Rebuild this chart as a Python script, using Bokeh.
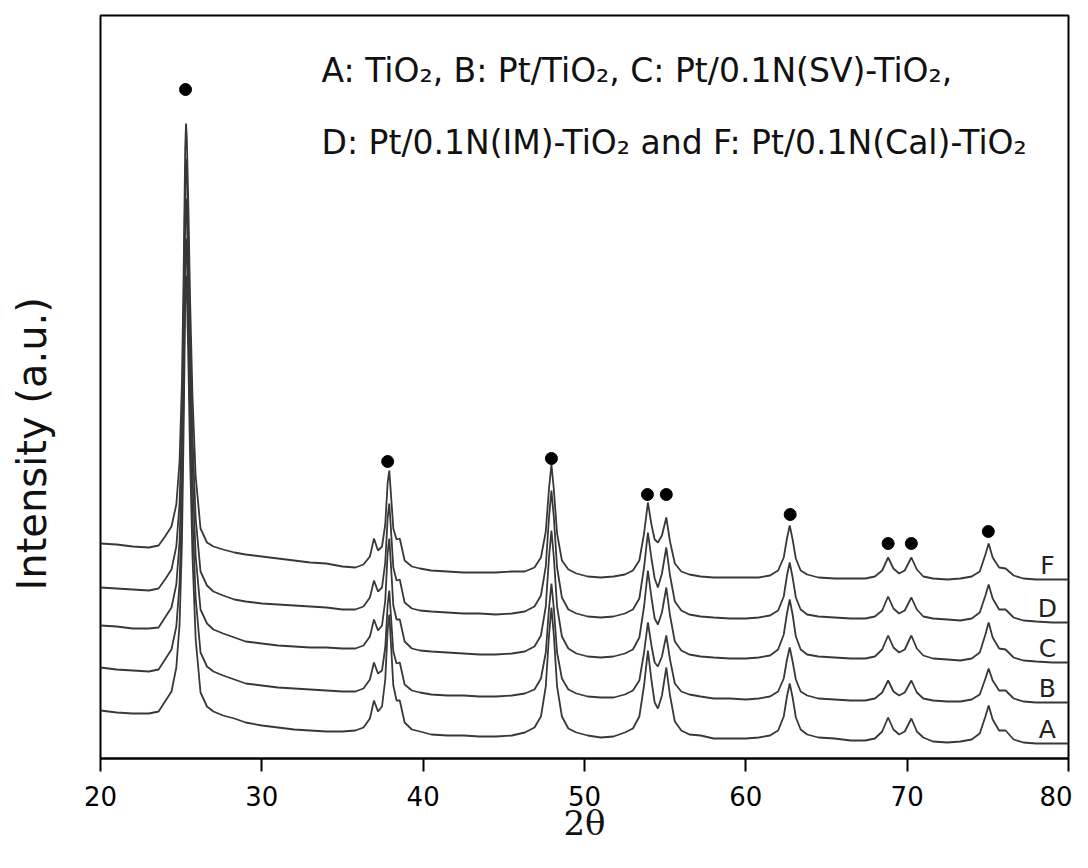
from bokeh.plotting import figure
from bokeh.models import Range1d, Label, FixedTicker, Title
from bokeh.embed import file_html
from bokeh.resources import INLINE

# 2-theta grid (degrees)
two_theta = [20, 21, 22, 23, 23.6,
             24.0, 24.4, 24.7, 24.9, 25.05, 25.15, 25.25, 25.3, 25.35, 25.45, 25.55, 25.7, 25.9, 26.2, 26.6, 27.0, 27.6, 28.3,
             29, 30, 31, 32, 33, 34, 35, 35.8,
             36.3, 36.7, 36.95, 37.2, 37.45, 37.65, 37.8, 37.9, 38.0, 38.15, 38.35, 38.55, 38.85, 39.3, 39.8,
             40.5, 41.5, 42.5, 43.5, 44.5, 45.5,
             46.3, 46.9, 47.3, 47.6, 47.8, 47.95, 48.1, 48.3, 48.6, 49.0, 49.5, 50.2,
             51, 51.8,
             52.5, 53.0, 53.4, 53.7, 53.93, 54.15, 54.35, 54.55, 54.8, 55.07, 55.3, 55.6, 56.0, 56.5, 57.2,
             58, 59, 60,
             60.8, 61.5, 62.0, 62.35, 62.55, 62.72, 62.9, 63.1, 63.4, 63.8, 64.5, 65.5,
             66.5, 67.4,
             68.0, 68.45, 68.82, 69.15, 69.5, 69.85, 70.26, 70.6, 71.0, 71.6, 72.5,
             73.3, 74.0, 74.5, 74.85, 75.05, 75.3, 75.7, 76.1, 76.6, 77.2, 78, 79, 80]

# Intensities (a.u., as stacked in the figure)
trace_A = [48, 46, 45, 45, 47,
           57, 67, 91, 134, 217, 326, 457, 483, 469, 395, 303, 203, 119, 66, 52, 47, 43, 40,
           36, 33, 31, 29, 28, 27, 27, 28,
           31, 40, 58, 47, 52, 79, 129, 144, 116, 73, 58, 58, 36, 29, 27,
           24, 23, 23, 22, 22, 23,
           26, 31, 42, 72, 123, 151, 123, 72, 42, 30, 26, 23,
           21, 22,
           26, 30, 42, 74, 108, 78, 56, 50, 63, 91, 63, 37, 28, 24, 23,
           20, 20, 20,
           21, 23, 28, 42, 62, 75, 61, 41, 29, 24, 21, 20,
           18, 18,
           20, 27, 41, 29, 24, 27, 40, 27, 21, 17, 16,
           17, 19, 25, 42, 53, 39, 28, 28, 19, 16, 15, 15, 15]

trace_B = [91, 89, 88, 87, 89,
           99, 109, 132, 175, 257, 365, 494, 520, 506, 433, 342, 243, 160, 106, 92, 87, 83, 79,
           75, 73, 71, 70, 69, 68, 67, 67,
           70, 79, 96, 85, 88, 111, 154, 168, 143, 107, 95, 96, 74, 68, 66,
           64, 63, 63, 62, 62, 63,
           65, 69, 80, 106, 150, 175, 150, 106, 80, 69, 65, 62,
           61, 61,
           64, 68, 78, 107, 136, 113, 96, 92, 102, 123, 99, 75, 67, 64, 62,
           60, 60, 59,
           60, 62, 67, 80, 99, 111, 97, 79, 67, 63, 60, 59,
           58, 58,
           60, 66, 78, 67, 63, 66, 78, 66, 60, 58, 57,
           57, 59, 64, 80, 90, 78, 68, 68, 60, 57, 56, 56, 56]

trace_C = [133, 132, 130, 130, 131,
           141, 151, 174, 217, 298, 406, 534, 560, 546, 473, 383, 284, 202, 149, 135, 129, 125, 121,
           117, 115, 113, 112, 111, 111, 110, 110,
           113, 122, 139, 128, 133, 158, 206, 220, 194, 153, 139, 139, 117, 110, 108,
           107, 106, 105, 104, 104, 105,
           107, 112, 123, 152, 201, 228, 201, 152, 122, 110, 105, 102,
           101, 102,
           105, 109, 121, 153, 188, 161, 140, 134, 146, 171, 143, 117, 108, 104, 102,
           101, 100, 100,
           101, 103, 109, 124, 145, 159, 144, 122, 109, 104, 102, 101,
           100, 100,
           102, 109, 123, 111, 106, 109, 123, 110, 103, 100, 99,
           98, 100, 106, 124, 136, 121, 110, 109, 101, 98, 97, 96, 96]

trace_D = [171, 170, 169, 168, 170,
           179, 189, 212, 255, 337, 445, 574, 600, 586, 513, 422, 323, 240, 187, 173, 167, 163, 159,
           157, 155, 154, 153, 152, 151, 149, 149,
           152, 161, 178, 167, 171, 196, 241, 255, 230, 191, 178, 179, 156, 150, 148,
           147, 146, 145, 145, 144, 145,
           147, 152, 163, 192, 241, 268, 241, 191, 161, 149, 145, 142,
           141, 142,
           145, 149, 160, 192, 226, 200, 180, 171, 185, 211, 183, 157, 148, 144, 142,
           141, 140, 140,
           141, 143, 148, 162, 183, 196, 181, 161, 149, 144, 142, 141,
           140, 140,
           142, 148, 162, 150, 145, 148, 161, 149, 142, 140, 139,
           138, 140, 146, 163, 174, 160, 149, 149, 141, 138, 137, 136, 136]

trace_F = [215, 214, 212, 211, 213,
           222, 232, 254, 297, 377, 483, 610, 635, 621, 549, 461, 363, 282, 230, 216, 212, 209, 206,
           204, 202, 200, 198, 196, 195, 192, 191,
           194, 202, 220, 208, 212, 234, 276, 288, 265, 230, 219, 220, 198, 192, 190,
           188, 187, 186, 186, 186, 187,
           187, 191, 201, 227, 270, 294, 269, 225, 198, 189, 185, 182,
           181, 182,
           184, 188, 198, 226, 256, 234, 219, 216, 223, 241, 217, 195, 187, 184, 182,
           181, 181, 181,
           181, 183, 188, 201, 220, 233, 219, 200, 188, 184, 181, 180,
           180, 180,
           182, 188, 201, 190, 185, 188, 201, 189, 182, 180, 179,
           180, 182, 187, 204, 215, 201, 191, 190, 183, 180, 179, 179, 179]

trace_names = ["A", "B", "C", "D", "F"]
traces = [trace_A, trace_B, trace_C, trace_D, trace_F]

# anatase reflection markers
peak_positions = [25.27, 37.8, 47.95, 53.9, 55.07, 62.75, 68.82, 70.26, 75.03]
peak_marker_y = [669, 297, 300, 264, 264, 244, 215, 215, 227]

x_ticks = [20, 30, 40, 50, 60, 70, 80]

legend_line1 = "A: TiO\u2082, B: Pt/TiO\u2082, C: Pt/0.1N(SV)-TiO\u2082,"
legend_line2 = "D: Pt/0.1N(IM)-TiO\u2082 and  F: Pt/0.1N(Cal)-TiO\u2082"

p = figure(width=1072, height=852, output_backend="svg", toolbar_location=None,
           x_range=Range1d(20, 80), y_range=Range1d(0, 743),
           min_border_left=100, min_border_right=4, min_border_top=15, min_border_bottom=94)
p.background_fill_color = "white"
p.border_fill_color = "white"
p.outline_line_color = "black"
p.outline_line_width = 2
p.xgrid.visible = False
p.ygrid.visible = False

# left axis: no ticks or labels, only reserves room beside the frame
yax = p.yaxis[0]
yax.ticker = FixedTicker(ticks=[])
yax.axis_line_color = None
yax.major_tick_line_color = None
yax.minor_tick_line_color = None
yax.major_tick_in = 0
yax.major_tick_out = 0
yax.minor_tick_out = 0
yax.major_label_standoff = 0
yax.axis_label = " "
yax.axis_label_text_font_size = "10px"
yax.axis_label_standoff = 27

ax = p.xaxis[0]
ax.ticker = FixedTicker(ticks=x_ticks)
ax.axis_line_width = 2
ax.axis_line_color = "black"
ax.major_tick_line_width = 2
ax.major_tick_line_color = "black"
ax.major_tick_in = 0
ax.major_tick_out = 13
ax.minor_tick_line_color = None
ax.major_label_text_font = "DejaVu Sans"
ax.major_label_text_font_size = "26px"
ax.major_label_text_color = "black"
ax.major_label_standoff = 14
ax.axis_label = "2\u03b8"
ax.axis_label_text_font = "DejaVu Serif"
ax.axis_label_text_font_size = "34px"
ax.axis_label_text_font_style = "normal"
ax.axis_label_text_color = "#111111"
ax.axis_label_standoff = -6

ytitle = Title(text="Intensity (a.u.)", align="left", offset=168, standoff=10,
               text_font="DejaVu Sans", text_font_size="40px",
               text_font_style="normal", text_color="#111111")
p.add_layout(ytitle, "left")

for name, tr in zip(trace_names, traces):
    p.line(two_theta, tr, line_color="#383838", line_width=1.8)
    p.add_layout(Label(x=78.69, y=tr[-1] + 14, text=name, text_align="center",
                       text_baseline="middle", text_font="DejaVu Sans",
                       text_font_size="25px", text_color="#222222"))

p.scatter(peak_positions, peak_marker_y, size=12, color="black")

p.add_layout(Label(x=33.70, y=688, text=legend_line1, text_align="left",
                   text_baseline="alphabetic", text_font="DejaVu Sans",
                   text_font_size="33px", text_color="#111111"))
p.add_layout(Label(x=33.70, y=616, text=legend_line2, text_align="left",
                   text_baseline="alphabetic", text_font="DejaVu Sans",
                   text_font_size="33px", text_color="#111111"))

open("out.html", "w").write(file_html(p, INLINE))
